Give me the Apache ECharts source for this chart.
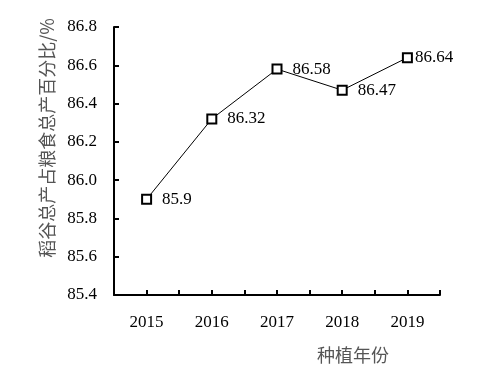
<!DOCTYPE html>
<html><head><meta charset="utf-8">
<script src="https://cdn.jsdelivr.net/npm/echarts@6/dist/echarts.min.js"></script>
<style>html,body{margin:0;padding:0;background:#fff}#c{width:484px;height:390px}</style>
</head><body><div id="c"></div>
<script>
var years = [2015, 2016, 2017, 2018, 2019];
var values = [85.9, 86.32, 86.58, 86.47, 86.64];
var labelDistances = [10, 10, 10, 10, 2];
var yTicks = [85.4, 85.6, 85.8, 86.0, 86.2, 86.4, 86.6, 86.8];

var serif = '"Liberation Serif", "Times New Roman", serif';
var cjk = '"Noto Sans CJK SC", sans-serif';
var chart = echarts.init(document.getElementById('c'));
var seriesData = years.map(function (y, i) {
  return { value: [y, values[i]], label: { distance: labelDistances[i] } };
});
chart.setOption({
  animation: false,
  grid: { left: 114, right: 44, top: 27, bottom: 95 },
  xAxis: {
    type: 'value', min: 2014.5, max: 2019.5, interval: 0.5,
    name: '种植年份', nameLocation: 'middle', nameGap: 51,
    nameTextStyle: { fontFamily: cjk, fontSize: 18, color: '#555', padding: [0, 0, 0, 152] },
    axisLine: { lineStyle: { color: '#000', width: 2 } },
    axisTick: { show: true, inside: true, length: 5, lineStyle: { color: '#000', width: 2 } },
    axisLabel: {
      fontFamily: serif, fontSize: 17, color: '#000', margin: 19,
      formatter: function (v) { return Math.abs(v - Math.round(v)) < 1e-6 ? String(Math.round(v)) : ''; }
    },
    splitLine: { show: false }
  },
  yAxis: {
    type: 'value', min: yTicks[0], max: yTicks[yTicks.length - 1], interval: 0.2,
    name: '稻谷总产占粮食总产百分比/%', nameLocation: 'middle', nameGap: 57, nameRotate: 90,
    nameTextStyle: { fontFamily: cjk, fontSize: 18, color: '#555', padding: [0, 0, 0, 46] },
    axisLine: { show: true, lineStyle: { color: '#000', width: 2 } },
    axisTick: { show: true, inside: true, length: 5, lineStyle: { color: '#000', width: 2 } },
    axisLabel: {
      fontFamily: serif, fontSize: 17, color: '#000', margin: 17,
      formatter: function (v) { return v.toFixed(1); }
    },
    splitLine: { show: false }
  },
  series: [{
    type: 'line',
    data: seriesData,
    symbol: 'rect', symbolSize: 9,
    itemStyle: { color: '#fff', borderColor: '#000', borderWidth: 2 },
    lineStyle: { color: '#000', width: 1 },
    label: { show: true, position: 'right', fontFamily: serif, fontSize: 17, color: '#000',
      formatter: function (p) { return String(p.value[1]); } }
  }]
});
</script></body></html>
